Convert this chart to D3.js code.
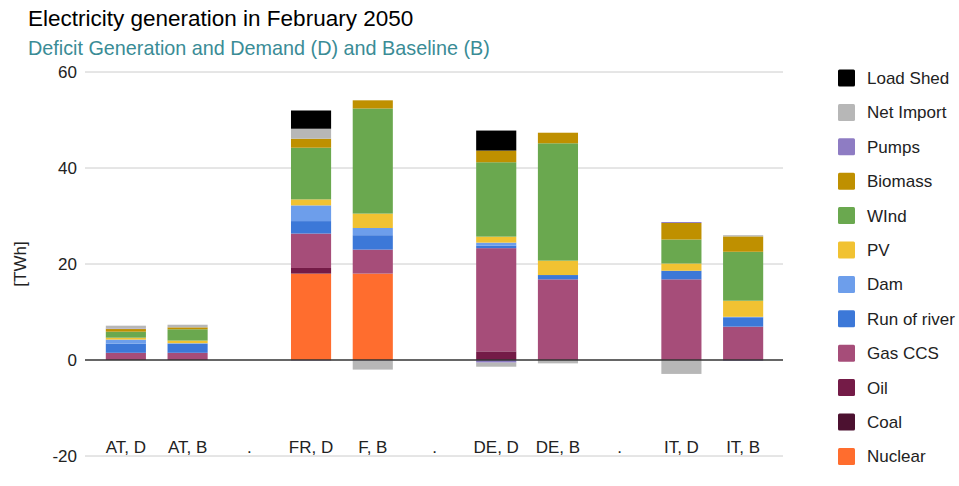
<!DOCTYPE html>
<html lang="en">
<head>
    <meta charset="UTF-8">
    <title>Electricity generation in February 2050</title>
    <script src="https://d3js.org/d3.v7.min.js"></script>
    <style>
        body { margin: 0; background: #fff; }
        svg { font-family: Arial, "Liberation Sans", sans-serif; }
    </style>
</head>
<body>
    <div id="chart"></div>

    <script>
        const categories = ["AT, D", "AT, B", ".", "FR, D", "F, B", ".", "DE, D", "DE, B", ".", "IT, D", "IT, B"];

        // one value per category, bottom of stack first
        const nuclear   = [0, 0, null, 18.0, 18.0, null, 0, 0, null, 0, 0];
        const coal      = [0, 0, null, 0, 0, null, 0, 0, null, 0, 0];
        const oil       = [0, 0, null, 1.17, 0, null, 1.8, 0, null, 0, 0];
        const gasCcs    = [1.5, 1.5, null, 7.17, 5.0, null, 21.5, 16.8, null, 16.8, 6.95];
        const runOfRiver = [1.9, 1.9, null, 2.6, 3.0, null, 0.55, 0.9, null, 1.8, 1.95];
        const dam       = [0.85, 0.1, null, 3.27, 1.5, null, 0.6, 0, null, 0, 0.1];
        const pv        = [0.4, 0.55, null, 1.25, 3.0, null, 1.25, 3.0, null, 1.5, 3.35];
        const wind      = [1.25, 2.35, null, 10.77, 21.9, null, 15.5, 24.45, null, 5.0, 10.2];
        const biomass   = [0.55, 0.4, null, 1.87, 1.7, null, 2.43, 2.2, null, 3.45, 3.2];
        const pumps     = [0.1, 0, null, -0.1, -0.1, null, -0.55, 0, null, 0.2, -0.15];
        const netImport = [0.6, 0.55, null, 2.08, -1.9, null, -0.85, -0.7, null, -2.9, 0.25];
        const loadShed  = [0, 0, null, 3.8, 0, null, 4.17, 0, null, 0, 0];

        const seriesNames = ["Nuclear", "Coal", "Oil", "Gas CCS", "Run of river", "Dam", "PV", "WInd", "Biomass", "Pumps", "Net Import", "Load Shed"];
        const seriesValues = [nuclear, coal, oil, gasCcs, runOfRiver, dam, pv, wind, biomass, pumps, netImport, loadShed];
        const seriesColors = ["#ff6d2e", "#4c1130", "#741b47", "#a64d79", "#3c78d8", "#6d9eeb", "#f1c232", "#6aa84f", "#bf9000", "#8e7cc3", "#b7b7b7", "#000000"];
        const yTicks = [-20, 0, 20, 40, 60];

        const W = 959, H = 486;
        const FONT = "Arial, 'Liberation Sans', sans-serif";
        const svg = d3.select("#chart").append("svg").attr("width", W).attr("height", H);

        svg.append("text").attr("x", 28).attr("y", 26)
            .attr("font-size", 22.5).attr("fill", "#000")
            .text("Electricity generation in February 2050");
        svg.append("text").attr("x", 28).attr("y", 55)
            .attr("font-size", 19.8).attr("fill", "#3a8c96")
            .text("Deficit Generation and Demand (D) and Baseline (B)");

        // build table rows for d3.stack
        const table = categories.map((c, i) => {
            const row = { cat: c, idx: i };
            seriesNames.forEach((s, j) => { row[s] = seriesValues[j][i] || 0; });
            return row;
        });

        const stacked = d3.stack()
            .keys(seriesNames)
            .offset(d3.stackOffsetDiverging)(table);

        const x = d3.scaleBand()
            .domain(d3.range(categories.length))
            .range([95, 774])
            .paddingInner(0.35)
            .paddingOuter(0.175);

        const y = d3.scaleLinear().domain([-20, 60]).range([456, 72]);

        const gridLeft = 85, gridRight = 783;

        // gridlines
        svg.append("g").selectAll("line")
            .data(yTicks.filter(t => t !== 0))
            .enter().append("line")
            .attr("x1", gridLeft).attr("x2", gridRight)
            .attr("y1", d => y(d)).attr("y2", d => y(d))
            .attr("stroke", "#cccccc").attr("stroke-width", 1);

        // y axis labels (plain hyphen for negatives)
        const yAxis = svg.append("g")
            .attr("transform", `translate(${gridLeft},0)`)
            .call(d3.axisLeft(y).tickValues(yTicks).tickSize(0).tickPadding(8).tickFormat(d => String(d)));
        yAxis.select(".domain").remove();
        yAxis.selectAll("text").attr("font-size", 17).attr("fill", "#222")
            .attr("font-family", FONT);

        svg.append("text")
            .attr("transform", `translate(26,${(y(60) + y(-20)) / 2}) rotate(-90)`)
            .attr("text-anchor", "middle")
            .attr("font-size", 17).attr("fill", "#222")
            .text("[TWh]");

        // bars
        svg.append("g").selectAll("g")
            .data(stacked)
            .enter().append("g")
            .attr("fill", (d, i) => seriesColors[i])
            .selectAll("rect")
            .data(d => d.filter(p => p[1] !== p[0]))
            .enter().append("rect")
            .attr("x", d => x(d.data.idx))
            .attr("width", x.bandwidth())
            .attr("y", d => y(Math.max(d[0], d[1])))
            .attr("height", d => Math.abs(y(d[0]) - y(d[1])));

        // zero line
        svg.append("line")
            .attr("x1", gridLeft).attr("x2", gridRight)
            .attr("y1", y(0)).attr("y2", y(0))
            .attr("stroke", "#333").attr("stroke-width", 1.5);

        // x axis labels, sitting just above the -20 gridline
        const xAxis = svg.append("g")
            .attr("transform", `translate(0,${y(-20)})`)
            .call(d3.axisBottom(x).tickSize(0).tickFormat(i => categories[i]));
        xAxis.select(".domain").remove();
        xAxis.selectAll("text").attr("font-size", 17).attr("fill", "#222")
            .attr("font-family", FONT)
            .attr("dy", null).attr("y", -3);

        // legend, reversed order
        const legend = svg.append("g").selectAll("g")
            .data(seriesNames.map((s, i) => ({ name: s, color: seriesColors[i] })).reverse())
            .enter().append("g")
            .attr("transform", (d, i) => `translate(838,${78 + i * 34.4})`);
        legend.append("rect")
            .attr("x", 0).attr("y", -8.5).attr("width", 17).attr("height", 17)
            .attr("rx", 1.5)
            .attr("fill", d => d.color);
        legend.append("text")
            .attr("x", 29).attr("y", 6)
            .attr("font-size", 17).attr("fill", "#222")
            .text(d => d.name);
    </script>
</body>
</html>
